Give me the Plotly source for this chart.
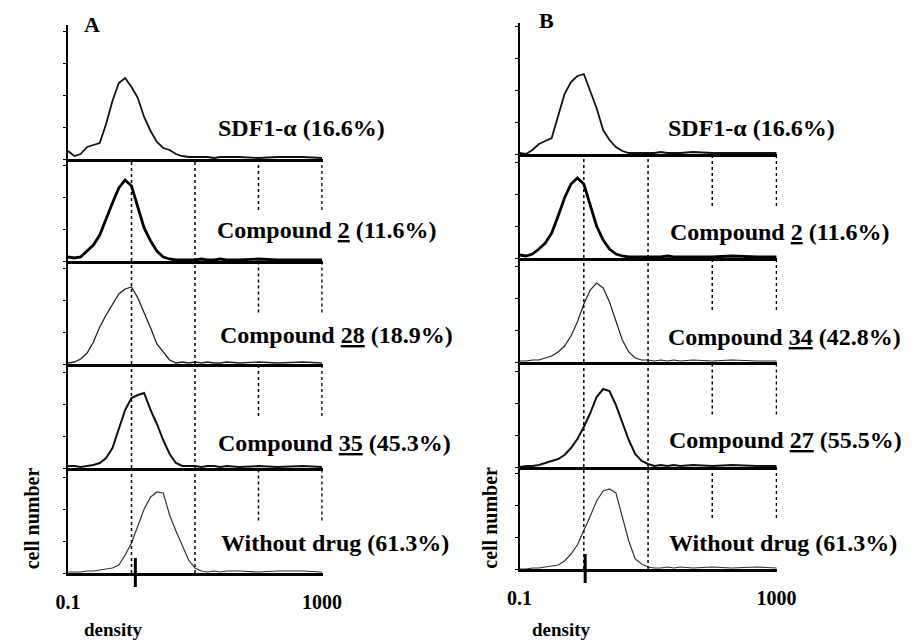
import plotly.graph_objects as go

# ---------------- data ----------------
# fluorescence density bins (log spaced, 0.1 .. 1000)
DENSITY = [0.1, 0.126, 0.158, 0.2, 0.251, 0.316, 0.398, 0.501, 0.631, 0.794,
           1.0, 1.26, 1.58, 2.0, 2.51, 3.16, 3.98, 5.01, 6.31, 7.94,
           10.0, 12.6, 15.8, 20.0, 25.1, 31.6, 50.0, 100.0, 200.0, 500.0, 1000.0]

# panel A histograms (cell number)
A_SDF1 = [8, 3, 5, 12, 14, 16, 35, 58, 76, 81, 72, 61, 42, 28, 17, 11, 9, 5, 3, 2, 2, 2, 2, 1, 2, 2, 2, 1, 2, 2, 1]
A_CPD2 = [4, 3, 4, 10, 16, 26, 43, 58, 73, 81, 75, 53, 33, 20, 10, 4, 2, 1, 1, 1, 1, 2, 1, 1, 2, 1, 1, 2, 1, 1, 1]
A_CPD28 = [1, 2, 5, 11, 22, 37, 49, 60, 70, 75, 77, 66, 52, 36, 20, 12, 4, 1, 2, 1, 2, 1, 2, 1, 1, 2, 1, 2, 1, 2, 1]
A_CPD35 = [2, 2, 1, 2, 3, 5, 10, 20, 38, 58, 70, 73, 75, 58, 44, 28, 14, 5, 2, 2, 2, 1, 2, 2, 1, 2, 1, 2, 1, 2, 1]
A_NODRUG = [1, 1, 1, 2, 2, 3, 4, 5, 8, 18, 30, 48, 64, 76, 81, 80, 58, 42, 28, 13, 5, 2, 1, 2, 1, 2, 2, 1, 2, 2, 1]

# panel B histograms (cell number)
B_SDF1 = [1, 0, 4, 10, 13, 16, 38, 60, 72, 78, 80, 62, 46, 24, 14, 7, 3, 1, 1, 1, 1, 1, 2, 1, 1, 1, 2, 1, 1, 1, 1]
B_CPD2 = [3, 2, 4, 9, 15, 25, 42, 60, 74, 80, 74, 52, 32, 18, 9, 4, 2, 1, 1, 1, 1, 1, 1, 2, 1, 1, 1, 1, 2, 1, 1]
B_CPD34 = [1, 1, 2, 2, 4, 6, 10, 16, 26, 40, 58, 72, 79, 74, 60, 40, 22, 10, 4, 2, 2, 1, 2, 1, 2, 1, 2, 1, 2, 1, 1]
B_CPD27 = [0, 1, 1, 2, 4, 6, 8, 12, 19, 28, 40, 54, 70, 78, 76, 62, 44, 27, 13, 6, 3, 1, 2, 1, 2, 1, 2, 1, 2, 1, 1]
B_NODRUG = [0, 0, 1, 1, 2, 3, 4, 8, 15, 24, 38, 53, 68, 78, 80, 76, 52, 28, 10, 5, 2, 1, 1, 2, 1, 2, 1, 2, 1, 2, 1]

A_LABELS = ["SDF1-α (16.6%)", "Compound <u>2</u> (11.6%)", "Compound <u>28</u> (18.9%)",
            "Compound <u>35</u> (45.3%)", "Without drug (61.3%)"]
B_LABELS = ["SDF1-α (16.6%)", "Compound <u>2</u> (11.6%)", "Compound <u>34</u> (42.8%)",
            "Compound <u>27</u> (55.5%)", "Without drug (61.3%)"]

X_TICKS = [0.1, 1000]
X_TICKTEXT = ["0.1", "1000"]
GRID_FULL = [1, 10]
GRID_HALF = [100, 1000]
GATE_A = 1.15
GATE_B = 1.05

# ---------------- layout geometry (pixels) ----------------
W, H = 913, 642
FONT = "Liberation Serif"

panels = {
    "A": dict(x0=57, x1=321, top=25, bases=[159, 261, 364, 468, 573],
              series=[A_SDF1, A_CPD2, A_CPD28, A_CPD35, A_NODRUG], labels=A_LABELS,
              label_x=[210, 209, 212, 210, 213], label_y=[128, 230, 335, 443, 543],
              letter=(82, 25), gate=GATE_A, cell=(20, 518), dens=(104, 629),
              widths=[1.8, 2.8, 1.3, 2.0, 1.2]),
    "B": dict(x0=525, x1=792, top=23, bases=[154, 258, 362, 467, 569],
              series=[B_SDF1, B_CPD2, B_CPD34, B_CPD27, B_NODRUG], labels=B_LABELS,
              label_x=[677, 679, 677, 678, 678], label_y=[128, 232, 337, 440, 543],
              letter=(553, 21), gate=GATE_B, cell=(494, 518), dens=(568, 629),
              widths=[1.8, 2.8, 1.2, 2.0, 1.2]),
}

colors = ["#111", "#000", "#222", "#111", "#333"]

def fx(px):
    return px / W

def fy(py):
    return 1 - py / H

fig = go.Figure()
layout = dict(width=W, height=H, margin=dict(l=0, r=0, t=0, b=0),
              paper_bgcolor="white", plot_bgcolor="rgba(0,0,0,0)", showlegend=False)
shapes = []
annotations = []

idx = 0
for key, P in panels.items():
    for k in range(5):
        idx += 1
        xa = "xaxis" if idx == 1 else f"xaxis{idx}"
        ya = "yaxis" if idx == 1 else f"yaxis{idx}"
        xr = "x" if idx == 1 else f"x{idx}"
        yr = "y" if idx == 1 else f"y{idx}"
        top = P["top"] if k == 0 else P["bases"][k - 1]
        base = P["bases"][k]
        bottom = (k == 4)
        layout[xa] = dict(type="log", range=[-1, 3.012], domain=[fx(P["x0"]), fx(P["x1"])],
                          anchor=yr, showline=True, linewidth=2.6, linecolor="black",
                          showgrid=False, zeroline=False,
                          showticklabels=bottom, tickvals=X_TICKS if bottom else [],
                          ticktext=[f"<b>{t}</b>" for t in X_TICKTEXT] if bottom else [],
                          ticks="outside" if bottom else "", ticklen=9,
                          tickcolor="rgba(0,0,0,0)",
                          tickfont=dict(family=FONT, size=20, color="black"))
        layout[ya] = dict(range=[0, base - top], domain=[fy(base), fy(top)], anchor=xr,
                          showline=True, linewidth=1.8, linecolor="black",
                          showgrid=False, zeroline=False, showticklabels=False,
                          ticks="outside", ticklen=3, tickwidth=1, tickcolor="black",
                          tick0=0, dtick=32)
        fig.add_trace(go.Scatter(x=DENSITY, y=P["series"][k], mode="lines",
                                 line=dict(color=colors[k], width=P["widths"][k]),
                                 xaxis=xr, yaxis=yr, hoverinfo="skip"))
        if k > 0:
            for g in GRID_FULL:
                shapes.append(dict(type="line", xref=xr, yref=f"{yr} domain", x0=g, x1=g,
                                   y0=0, y1=1, line=dict(color="black", width=1.5, dash="dot")))
            for g in GRID_HALF:
                shapes.append(dict(type="line", xref=xr, yref=f"{yr} domain", x0=g, x1=g,
                                   y0=0.5, y1=1, line=dict(color="black", width=1.5, dash="dot")))
        annotations.append(dict(text=f"<b>{P['labels'][k]}</b>", xref="paper", yref="paper",
                                x=fx(P["label_x"][k]), y=fy(P["label_y"][k]),
                                xanchor="left", yanchor="middle", showarrow=False,
                                font=dict(family=FONT, size=24, color="black")))
        if bottom:
            shapes.append(dict(type="line", xref=xr, yref="paper", x0=P["gate"], x1=P["gate"],
                               y0=fy(base + 14), y1=fy(base - 15),
                               line=dict(color="black", width=3)))
    annotations.append(dict(text=f"<b>{key}</b>", xref="paper", yref="paper",
                            x=fx(P["letter"][0]), y=fy(P["letter"][1]),
                            xanchor="center", yanchor="middle", showarrow=False,
                            font=dict(family=FONT, size=22, color="black")))
    annotations.append(dict(text="<b>cell number</b>", xref="paper", yref="paper",
                            x=fx(P["cell"][0]), y=fy(P["cell"][1]), textangle=-90,
                            xanchor="center", yanchor="middle", showarrow=False,
                            font=dict(family=FONT, size=20, color="black")))
    annotations.append(dict(text="<b>density</b>", xref="paper", yref="paper",
                            x=fx(P["dens"][0]), y=fy(P["dens"][1]),
                            xanchor="center", yanchor="middle", showarrow=False,
                            font=dict(family=FONT, size=19, color="black")))

layout["shapes"] = shapes
layout["annotations"] = annotations
fig.update_layout(**layout)
fig.write_html("out.html", config={"displayModeBar": False},
               post_script="document.body.style.margin='0px';document.body.style.overflow='hidden';")
